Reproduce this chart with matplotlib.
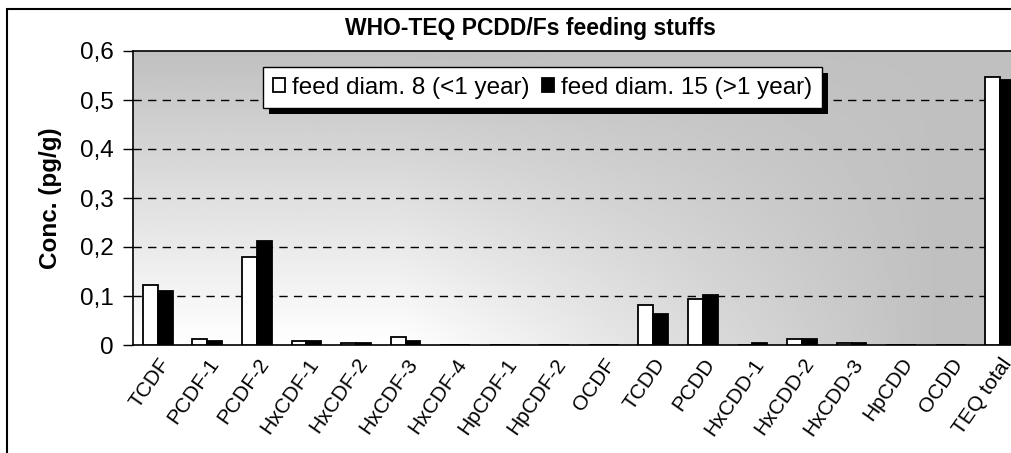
import numpy as np
import matplotlib.pyplot as plt
from matplotlib.patches import Rectangle

plt.rcParams['font.family'] = ['Liberation Sans', 'DejaVu Sans']

# data
categories = ['TCDF', 'PCDF-1', 'PCDF-2', 'HxCDF-1', 'HxCDF-2', 'HxCDF-3', 'HxCDF-4',
              'HpCDF-1', 'HpCDF-2', 'OCDF', 'TCDD', 'PCDD', 'HxCDD-1', 'HxCDD-2',
              'HxCDD-3', 'HpCDD', 'OCDD', 'TEQ total']
feed8 = [0.122, 0.012, 0.180, 0.008, 0.005, 0.017, 0, 0, 0, 0,
         0.082, 0.093, 0, 0.013, 0.004, 0, 0, 0.546]
feed15 = [0.111, 0.008, 0.213, 0.008, 0.005, 0.009, 0, 0, 0, 0,
          0.063, 0.103, 0.004, 0.013, 0.004, 0, 0, 0.540]
yticks = [0, 0.1, 0.2, 0.3, 0.4, 0.5, 0.6]
ytick_labels = ['0', '0,1', '0,2', '0,3', '0,4', '0,5', '0,6']

fig = plt.figure(figsize=(10.12, 4.53), dpi=100)
W, H = 1012, 453

# outer chart border (runs off the right and bottom of the picture)
fig.patches.append(Rectangle((7 / W, -0.2), 1.2, 1 - 9 / H + 0.2, transform=fig.transFigure,
                             fill=False, edgecolor='black', linewidth=1.5, zorder=0))

ax = fig.add_axes([133 / W, 1 - 345 / H, 892 / W, 294 / H])
ax.set_xlim(-0.5, len(categories) - 0.5)
ax.set_ylim(0, 0.6)

# grey gradient background: light at lower left, darker to top and right
gx = np.linspace(0, 1, 300)
gy = np.linspace(0, 1, 150)
X, Y = np.meshgrid(gx, gy)
hx = np.clip((X - 0.3) / 0.6, 0, 1)
val = 192 + 63 * (1 - Y) * (1 - hx)
ax.imshow(val, cmap='gray', vmin=0, vmax=255, origin='lower', aspect='auto',
          extent=[-0.5, len(categories) - 0.5, 0, 0.6], zorder=0, interpolation='bilinear')

x = np.arange(len(categories))
w = 0.3
ax.bar(x - w / 2, feed8, w, color='white', edgecolor='black', linewidth=1.3,
       label='feed diam. 8 (<1 year)', zorder=3)
ax.bar(x + w / 2, feed15, w, color='black', edgecolor='black', linewidth=1.3,
       label='feed diam. 15 (>1 year)', zorder=3)

for v in yticks[1:-1]:
    ax.axhline(v, color='black', linestyle=(0, (6, 4.5)), linewidth=1, zorder=1)

ax.set_yticks(yticks)
ax.set_yticklabels(ytick_labels, fontsize=17.5)
ax.set_xticks(x)
ax.set_xticklabels(categories, rotation=55, ha='right', rotation_mode='anchor', fontsize=15)
ax.tick_params(axis='y', length=7, width=1, pad=7)
ax.tick_params(axis='x', length=0, pad=7)
for s in ['left', 'top', 'bottom']:
    ax.spines[s].set_linewidth(1.2)
ax.spines['right'].set_visible(False)

ax.set_ylabel('Conc. (pg/g)', fontsize=17.5, fontweight='bold')
ax.yaxis.set_label_coords(-0.08, 0.5)

fig.text(530 / W, 1 - 29 / H, 'WHO-TEQ PCDD/Fs feeding stuffs', ha='center', va='center',
         fontsize=16.5, fontweight='bold')

leg = ax.legend(loc='upper left', bbox_to_anchor=(130 / 892, (345 - 67) / 294), ncol=2,
                frameon=True, fancybox=False, fontsize=17.5, handlelength=0.5,
                handleheight=0.5, handletextpad=0.3, columnspacing=0.5,
                borderaxespad=0, borderpad=0.4)
leg.get_frame().set_edgecolor('black')
leg.get_frame().set_linewidth(1)
leg.get_frame().set_alpha(1)
leg.set_zorder(6)

# solid black drop shadow under the legend box
fig.canvas.draw()
bb = leg.get_window_extent().transformed(fig.transFigure.inverted())
ax.add_patch(Rectangle((bb.x0 + 6 / W, bb.y0 - 6 / H), bb.width, bb.height,
                       transform=fig.transFigure, facecolor='black', edgecolor='none',
                       zorder=5, clip_on=False))

fig.savefig('out.png', dpi=100)
